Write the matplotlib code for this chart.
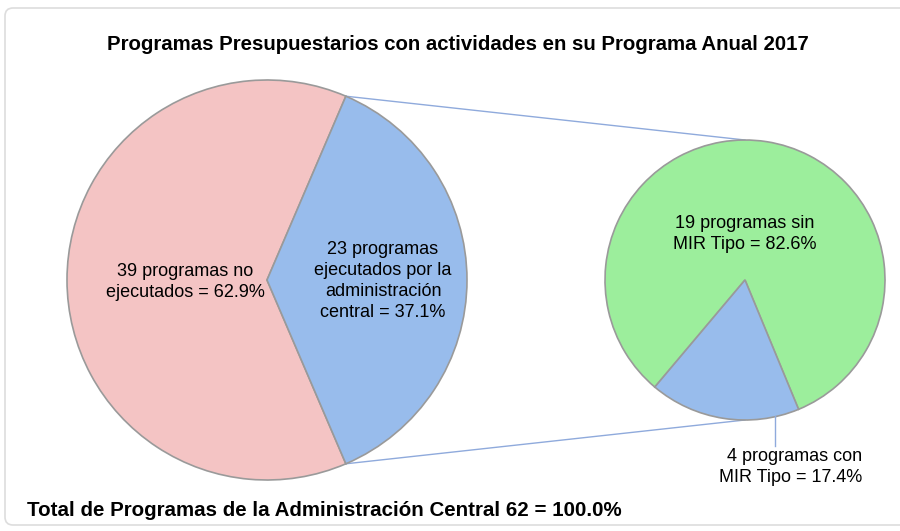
import matplotlib
matplotlib.use('Agg')
from matplotlib import pyplot as plt
from matplotlib.patches import FancyBboxPatch
import numpy as np

# datos
main_labels = ['39 programas no\nejecutados = 62.9%',
               '23 programas\nejecutados por la\nadministración\ncentral = 37.1%']
main_values = [39, 23]
sub_labels = ['19 programas sin\nMIR Tipo = 82.6%', '4 programas con\nMIR Tipo = 17.4%']
sub_values = [19, 4]
titulo = 'Programas Presupuestarios con actividades en su Programa Anual 2017'
total_txt = 'Total de Programas de la Administración Central 62 = 100.0%'

c_rosa = '#F4C4C4'
c_azul = '#98BCEC'
c_verde = '#9CEE9C'
c_linea = '#8FAADC'

fig = plt.figure(figsize=(9, 5.31), dpi=100)
ax = fig.add_axes([0, 0, 1, 1])

# marco
ax.add_patch(FancyBboxPatch((5, 6), 905, 517, boxstyle='round,pad=0,rounding_size=8',
                            fc='white', ec='#dddddd', lw=1.2, zorder=0))

H = 531
cx1, cy1, r1 = 267, H - 280, 200
cx2, cy2, r2 = 745, H - 280, 140

ini1 = main_values[1] / sum(main_values) * 180
ax.pie(main_values, colors=[c_rosa, c_azul], center=(cx1, cy1), radius=r1,
       startangle=ini1, frame=True,
       wedgeprops=dict(edgecolor='#9a9a9a', linewidth=1.2))
ax.pie(sub_values, colors=[c_verde, c_azul], center=(cx2, cy2), radius=r2,
       startangle=-67.5, frame=True,
       wedgeprops=dict(edgecolor='#9a9a9a', linewidth=1.2))
ax.set_xlim(0, 900)
ax.set_ylim(0, 531)
ax.set_aspect('equal')
ax.axis('off')

# lineas de conexion
a = np.deg2rad(ini1)
ax.plot([cx1 + r1 * np.cos(a), cx2], [cy1 + r1 * np.sin(a), cy2 + r2], color=c_linea, lw=1, zorder=0.5)
ax.plot([cx1 + r1 * np.cos(a), cx2], [cy1 - r1 * np.sin(a), cy2 - r2], color=c_linea, lw=1, zorder=0.5)

# textos
ax.text(458, H - 45, titulo, ha='center', va='center', fontsize=14.7, fontweight='bold',
        family='Liberation Sans')
ax.text(27, H - 510, total_txt, ha='left', va='center', fontsize=14.8, fontweight='bold',
        family='Liberation Sans')
fs = 13
ls = 1.3
ax.text(185, H - 282, main_labels[0], ha='center', va='center', fontsize=fs,
        family='Liberation Sans', linespacing=ls)
ax.text(383, H - 281, main_labels[1], ha='center', va='center', fontsize=fs,
        family='Liberation Sans', linespacing=ls)
ax.text(745, H - 234, sub_labels[0], ha='center', va='center', fontsize=fs,
        family='Liberation Sans', linespacing=ls)
ax.plot([775, 775], [H - 416, H - 446], color=c_linea, lw=1)
ax.text(862, H - 467, sub_labels[1], ha='right', va='center', fontsize=fs,
        family='Liberation Sans', linespacing=ls)

fig.savefig('out.png', dpi=100)
